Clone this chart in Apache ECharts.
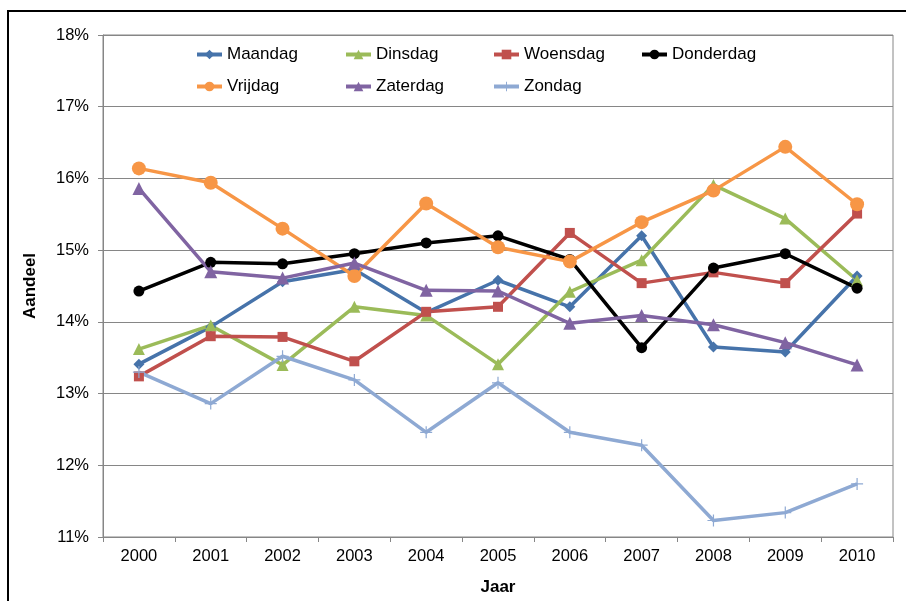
<!DOCTYPE html>
<html>
<head>
<meta charset="utf-8">
<script src="https://cdn.jsdelivr.net/npm/echarts@6/dist/echarts.min.js"></script>
<style>
  html, body { margin: 0; padding: 0; background: #fff; }
  #chart { width: 906px; height: 601px; }
</style>
</head>
<body>
<div id="chart"></div>
<script>
// Share per weekday (%), 2000-2010
const years = ['2000', '2001', '2002', '2003', '2004', '2005', '2006', '2007', '2008', '2009', '2010'];
const maandag   = [13.41, 13.93, 14.56, 14.73, 14.13, 14.58, 14.21, 15.20, 13.65, 13.58, 14.64];
const dinsdag   = [13.62, 13.95, 13.40, 14.21, 14.09, 13.41, 14.42, 14.86, 15.91, 15.44, 14.58];
const woensdag  = [13.24, 13.80, 13.79, 13.45, 14.14, 14.21, 15.24, 14.54, 14.69, 14.54, 15.51];
const donderdag = [14.43, 14.83, 14.81, 14.95, 15.10, 15.20, 14.87, 13.64, 14.75, 14.95, 14.47];
const vrijdag   = [16.14, 15.94, 15.30, 14.64, 15.65, 15.04, 14.84, 15.39, 15.83, 16.44, 15.64];
const zaterdag  = [15.86, 14.70, 14.61, 14.82, 14.44, 14.43, 13.98, 14.09, 13.96, 13.71, 13.40];
const zondag    = [13.30, 12.86, 13.52, 13.19, 12.46, 13.15, 12.46, 12.28, 11.23, 11.34, 11.74];
const yTicks = { min: 11, max: 18, step: 1 };

const plusPath = 'path://M5.4,0 H6.6 V5.4 H12 V6.6 H6.6 V12 H5.4 V6.6 H0 V5.4 H5.4 Z';

const seriesDefs = [
  { name: 'Maandag',   data: maandag,   color: '#4673AA', symbol: 'diamond',  size: 11 },
  { name: 'Dinsdag',   data: dinsdag,   color: '#9BBB59', symbol: 'triangle', size: 12 },
  { name: 'Woensdag',  data: woensdag,  color: '#C0504D', symbol: 'rect',     size: 10 },
  { name: 'Donderdag', data: donderdag, color: '#000000', symbol: 'circle',   size: 11 },
  { name: 'Vrijdag',   data: vrijdag,   color: '#F79646', symbol: 'circle',   size: 14 },
  { name: 'Zaterdag',  data: zaterdag,  color: '#8064A2', symbol: 'triangle', size: 13 },
  { name: 'Zondag',    data: zondag,    color: '#8EA9D3', symbol: plusPath,   size: 12 }
];

// legend slots: two rows, four columns
const legendSlots = [
  [195, 46], [344, 46], [492, 46], [640, 46],
  [195, 78], [344, 78], [492, 78]
];

const font = 'Arial, "Liberation Sans", sans-serif';

const chart = echarts.init(document.getElementById('chart'), null, { renderer: 'canvas' });

chart.setOption({
  animation: false,
  backgroundColor: '#ffffff',
  textStyle: { fontFamily: font },
  grid: {
    left: 103, right: 13, top: 35, bottom: 64,
    show: true, borderColor: '#868686', borderWidth: 1
  },
  legend: seriesDefs.map((s, i) => ({
    data: [s.name],
    left: legendSlots[i][0],
    top: legendSlots[i][1],
    itemWidth: 25,
    itemHeight: 12,
    padding: 0,
    lineStyle: { width: 4 },
    textStyle: { fontFamily: font, fontSize: 17, color: '#000' }
  })),
  xAxis: {
    type: 'category',
    data: years,
    boundaryGap: true,
    name: 'Jaar',
    nameLocation: 'middle',
    nameGap: 42,
    nameTextStyle: { fontFamily: font, fontSize: 17, fontWeight: 'bold', color: '#000' },
    axisLine: { lineStyle: { color: '#868686', width: 1 } },
    axisTick: { show: true, alignWithLabel: false, length: 5, lineStyle: { color: '#868686' } },
    axisLabel: { fontFamily: font, fontSize: 16.5, color: '#000', margin: 11 },
    splitLine: { show: false }
  },
  yAxis: {
    type: 'value',
    min: yTicks.min,
    max: yTicks.max,
    interval: yTicks.step,
    name: 'Aandeel',
    nameLocation: 'middle',
    nameRotate: 90,
    nameGap: 64,
    nameTextStyle: { fontFamily: font, fontSize: 17, fontWeight: 'bold', color: '#000' },
    axisLine: { show: true, lineStyle: { color: '#868686', width: 1 } },
    axisTick: { show: true, length: 5, lineStyle: { color: '#868686' } },
    axisLabel: { fontFamily: font, fontSize: 16.5, color: '#000', margin: 14, formatter: v => v + '%' },
    splitLine: { show: true, lineStyle: { color: '#868686', width: 1 } }
  },
  series: seriesDefs.map(s => ({
    name: s.name,
    type: 'line',
    data: s.data,
    symbol: s.symbol,
    symbolSize: s.size,
    showSymbol: true,
    color: s.color,
    lineStyle: { color: s.color, width: 3.5 },
    itemStyle: { color: s.color, borderWidth: 0 },
    emphasis: { disabled: true }
  })),
  graphic: [
    { type: 'line', shape: { x1: 8, y1: 11, x2: 906, y2: 11 }, style: { stroke: '#000', lineWidth: 2 }, silent: true },
    { type: 'line', shape: { x1: 8, y1: 10, x2: 8, y2: 601 }, style: { stroke: '#000', lineWidth: 2 }, silent: true }
  ]
});
</script>
</body>
</html>
